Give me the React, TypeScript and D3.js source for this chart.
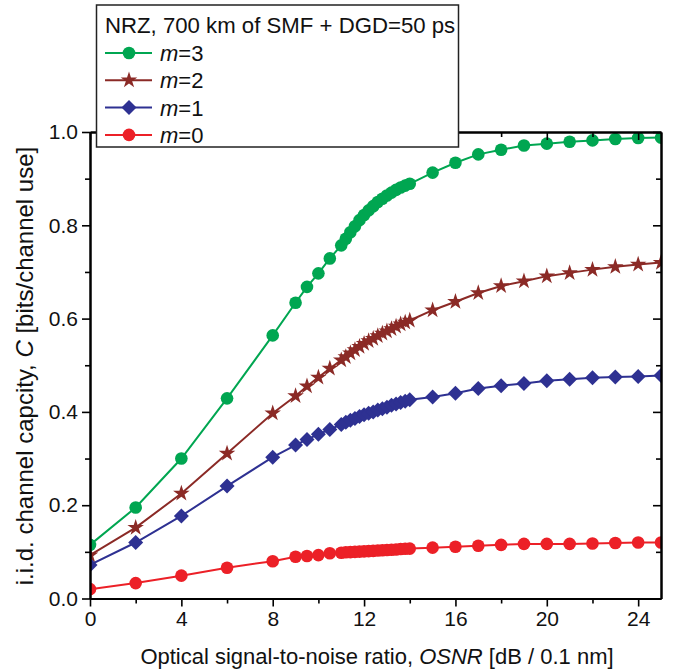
import React, { useEffect, useRef } from "react"
import * as d3 from "d3"

// OSNR values (dB / 0.1 nm)
const osnr = [0, 2, 4, 6, 8, 9, 9.5, 10, 10.5,
  11, 11.2, 11.4, 11.6, 11.8, 12, 12.2, 12.4, 12.6, 12.8, 13, 13.2, 13.4, 13.6, 13.8, 14,
  15, 16, 17, 18, 19, 20, 21, 22, 23, 24, 25]

const m3 = [0.115, 0.195, 0.300, 0.429, 0.564, 0.634, 0.668, 0.697, 0.729,
  0.757, 0.771, 0.785, 0.798, 0.811, 0.822, 0.832, 0.841, 0.850, 0.857, 0.864, 0.870, 0.876, 0.881, 0.885, 0.889,
  0.913, 0.934, 0.952, 0.962, 0.971, 0.975, 0.979, 0.982, 0.985, 0.987, 0.988]

const m2 = [0.093, 0.152, 0.225, 0.311, 0.397, 0.434, 0.455, 0.474, 0.493,
  0.511, 0.518, 0.526, 0.533, 0.540, 0.546, 0.552, 0.557, 0.563, 0.568, 0.573, 0.578, 0.583, 0.588, 0.592, 0.596,
  0.618, 0.636, 0.655, 0.670, 0.680, 0.691, 0.698, 0.705, 0.711, 0.716, 0.720]

const m1 = [0.072, 0.120, 0.177, 0.241, 0.303, 0.329, 0.341, 0.352, 0.3625,
  0.373, 0.378, 0.382, 0.386, 0.390, 0.394, 0.397, 0.400, 0.404, 0.407, 0.410, 0.414, 0.417, 0.420, 0.423, 0.426,
  0.432, 0.440, 0.450, 0.456, 0.461, 0.467, 0.470, 0.473, 0.475, 0.476, 0.478]

const m0 = [0.020, 0.033, 0.049, 0.066, 0.080, 0.0896, 0.091, 0.093, 0.097,
  0.098, 0.099, 0.0995, 0.100, 0.1005, 0.101, 0.1015, 0.102, 0.103, 0.1035, 0.104, 0.1045, 0.105, 0.106, 0.1065, 0.107,
  0.109, 0.111, 0.113, 0.115, 0.117, 0.117, 0.117, 0.118, 0.119, 0.120, 0.120]

const seriesNames = ["3", "2", "1", "0"]
const seriesValues = [m3, m2, m1, m0]
const seriesColors = ["#00a651", "#8b2a26", "#2e3192", "#ec2027"]
const seriesMarkers = ["circle", "star", "diamond", "circle"]

const xMajor = [0, 4, 8, 12, 16, 20, 24]
const xMinor = [2, 6, 10, 14, 18, 22]
const yMajor = [0, 0.2, 0.4, 0.6, 0.8, 1.0]
const yMinor = [0.1, 0.3, 0.5, 0.7, 0.9]

const legendTitle = "NRZ, 700 km of SMF + DGD=50 ps"
const xTitle = "Optical signal-to-noise ratio, "
const xTitleItalic = "OSNR"
const xTitleEnd = " [dB / 0.1 nm]"
const yTitle = "i.i.d. channel capcity, "
const yTitleItalic = "C"
const yTitleEnd = " [bits/channel use]"

const W = 673, H = 671
const left = 90, right = 661, top = 132, bottom = 598.5
const FONT = "'Liberation Sans', Arial, sans-serif"

function markerPath(kind) {
  if (kind === "star") return d3.symbol(d3.symbolStar, 85)()
  if (kind === "diamond") return "M0,-7.5L7.5,0L0,7.5L-7.5,0Z"
  return d3.symbol(d3.symbolCircle, Math.PI * 6.3 * 6.3)()
}

export default function App() {
  const ref = useRef(null)

  useEffect(() => {
    const svg = d3.select(ref.current)
    svg.selectAll("*").remove()

    const x = d3.scaleLinear().domain([0, 25]).range([left, right])
    const y = d3.scaleLinear().domain([0, 1]).range([bottom, top])

    svg.append("rect").attr("width", W).attr("height", H).attr("fill", "#fff")

    svg.append("defs").append("clipPath").attr("id", "plotclip")
      .append("rect").attr("x", left).attr("y", top)
      .attr("width", right - left).attr("height", bottom - top)

    // series
    const plot = svg.append("g").attr("clip-path", "url(#plotclip)")
    const line = d3.line().x(d => x(d[0])).y(d => y(d[1]))
    seriesValues.forEach((vals, i) => {
      const pts = osnr.map((o, j) => [o, vals[j]])
      plot.append("path")
        .attr("d", line(pts))
        .attr("fill", "none")
        .attr("stroke", seriesColors[i])
        .attr("stroke-width", 2)
      plot.append("g").selectAll("path")
        .data(pts)
        .enter()
        .append("path")
        .attr("d", markerPath(seriesMarkers[i]))
        .attr("transform", d => "translate(" + x(d[0]) + "," + y(d[1]) + ")")
        .attr("fill", seriesColors[i])
    })

    // axes
    const styleAxis = (g) => {
      g.selectAll("path.domain").attr("stroke", "#000").attr("stroke-width", 2)
      g.selectAll(".tick line").attr("stroke", "#000").attr("stroke-width", 1.6)
      g.selectAll("text").attr("font-family", FONT).attr("font-size", 21).attr("fill", "#111")
    }
    const fmt = d3.format(".1f")

    svg.append("g").attr("transform", "translate(0," + bottom + ")")
      .call(d3.axisBottom(x).tickValues(xMajor).tickSize(8).tickSizeOuter(0).tickPadding(5))
      .call(styleAxis)
    svg.append("g").attr("transform", "translate(0," + bottom + ")")
      .call(d3.axisBottom(x).tickValues(xMinor).tickSize(5).tickSizeOuter(0).tickFormat(() => ""))
      .call(styleAxis)
    svg.append("g").attr("transform", "translate(" + left + ",0)")
      .call(d3.axisLeft(y).tickValues(yMajor).tickSize(8).tickSizeOuter(0).tickPadding(4).tickFormat(fmt))
      .call(styleAxis)
    svg.append("g").attr("transform", "translate(" + left + ",0)")
      .call(d3.axisLeft(y).tickValues(yMinor).tickSize(5).tickSizeOuter(0).tickFormat(() => ""))
      .call(styleAxis)
    svg.append("g").attr("transform", "translate(0," + top + ")")
      .call(d3.axisTop(x).tickValues(xMajor).tickSize(-8).tickSizeOuter(0).tickFormat(() => ""))
      .call(styleAxis)
    svg.append("g").attr("transform", "translate(0," + top + ")")
      .call(d3.axisTop(x).tickValues(xMinor).tickSize(-5).tickSizeOuter(0).tickFormat(() => ""))
      .call(styleAxis)
    svg.append("g").attr("transform", "translate(" + right + ",0)")
      .call(d3.axisRight(y).tickValues(yMajor).tickSize(-8).tickSizeOuter(0).tickFormat(() => ""))
      .call(styleAxis)
    svg.append("g").attr("transform", "translate(" + right + ",0)")
      .call(d3.axisRight(y).tickValues(yMinor).tickSize(-5).tickSizeOuter(0).tickFormat(() => ""))
      .call(styleAxis)

    // axis titles
    const xt = svg.append("text")
      .attr("x", 377).attr("y", 664)
      .attr("text-anchor", "middle")
      .attr("font-family", FONT).attr("font-size", 22).attr("fill", "#111")
    xt.append("tspan").text(xTitle)
    xt.append("tspan").attr("font-style", "italic").text(xTitleItalic)
    xt.append("tspan").text(xTitleEnd)

    const yt = svg.append("text")
      .attr("transform", "translate(33," + 366 + ") rotate(-90)")
      .attr("text-anchor", "middle")
      .attr("font-family", FONT).attr("font-size", 24).attr("fill", "#111")
    yt.append("tspan").text(yTitle)
    yt.append("tspan").attr("font-style", "italic").text(yTitleItalic)
    yt.append("tspan").text(yTitleEnd)

    // legend
    const lg = svg.append("g")
    lg.append("rect")
      .attr("x", 96.5).attr("y", 5).attr("width", 362).attr("height", 142)
      .attr("fill", "#fff").attr("stroke", "#222").attr("stroke-width", 1.5)
    lg.append("text")
      .attr("x", 105).attr("y", 33)
      .attr("font-family", FONT).attr("font-size", 22.2).attr("fill", "#111")
      .text(legendTitle)
    seriesNames.forEach((name, i) => {
      const ry = 53 + i * 27.3
      lg.append("line")
        .attr("x1", 105).attr("x2", 152).attr("y1", ry).attr("y2", ry)
        .attr("stroke", seriesColors[i]).attr("stroke-width", 2)
      lg.append("path")
        .attr("d", markerPath(seriesMarkers[i]))
        .attr("transform", "translate(129," + ry + ")")
        .attr("fill", seriesColors[i])
      const t = lg.append("text")
        .attr("x", 160).attr("y", ry + 8)
        .attr("font-family", FONT).attr("font-size", 22).attr("fill", "#111")
      t.append("tspan").attr("font-style", "italic").text("m")
      t.append("tspan").text("=" + name)
    })
  }, [])

  return (
    <div style={{ position: "absolute", left: 0, top: 0 }}>
      <svg ref={ref} width={W} height={H} style={{ display: "block" }} />
    </div>
  )
}
